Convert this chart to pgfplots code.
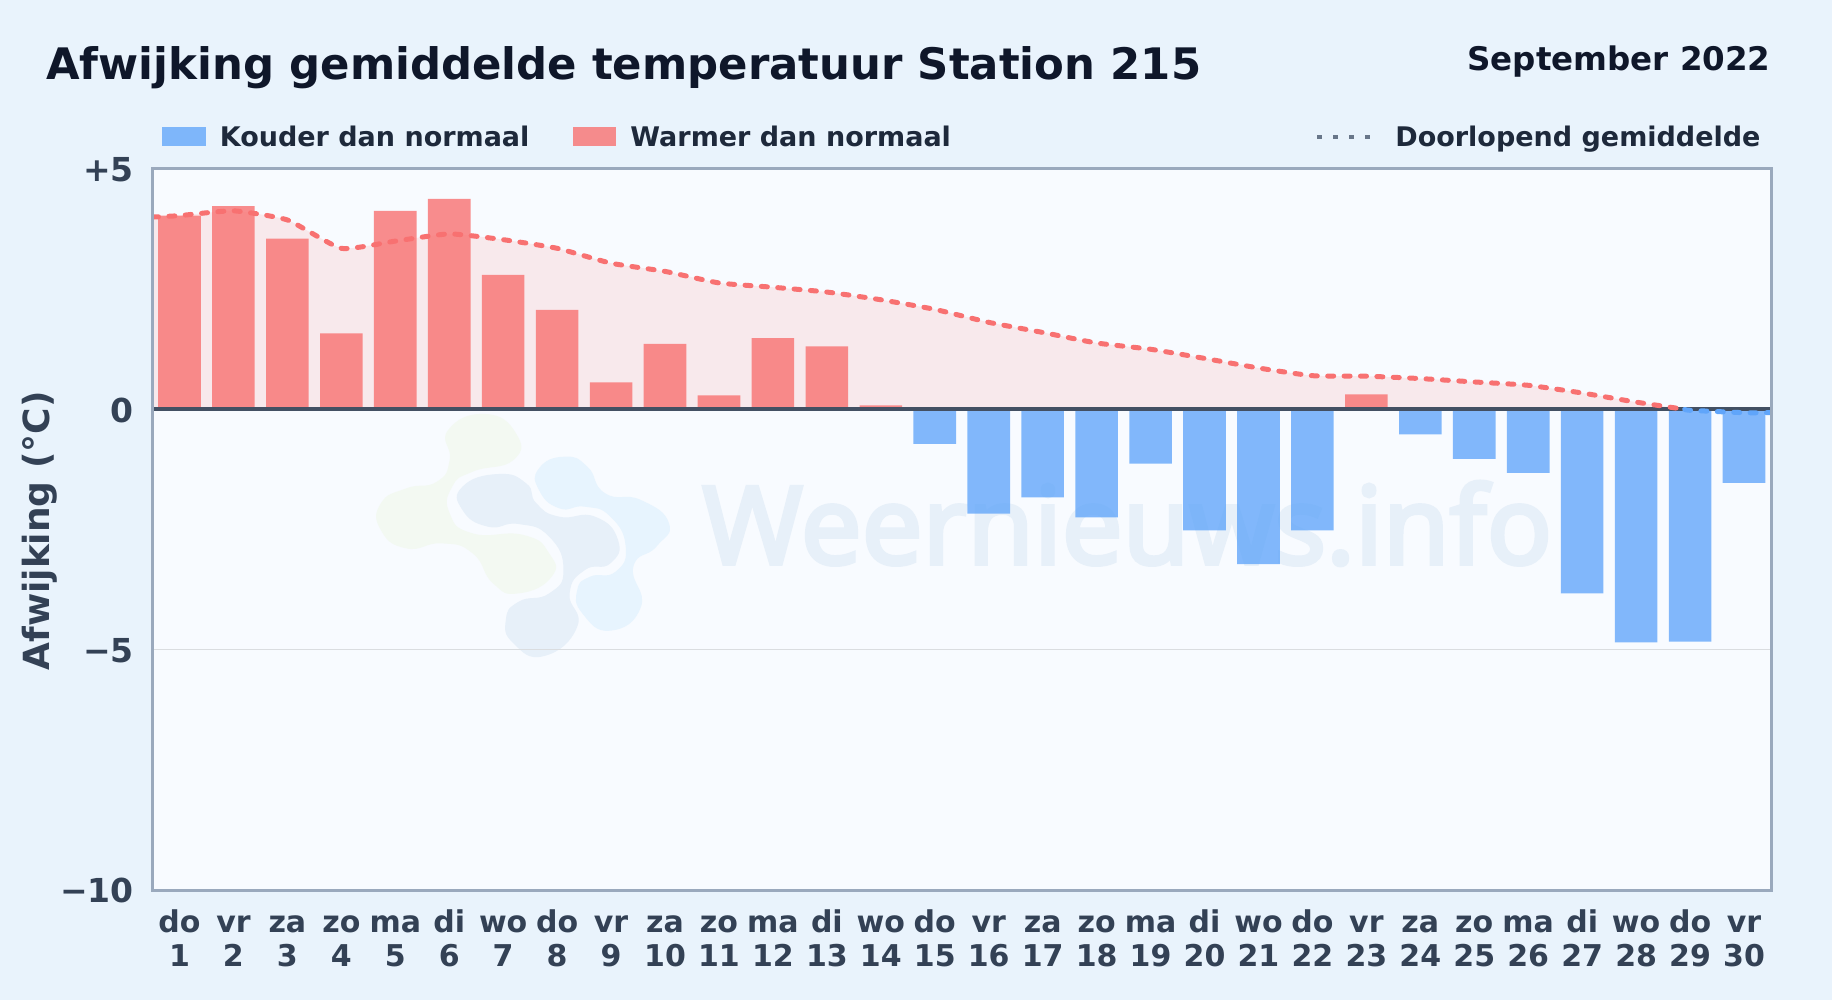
\documentclass[border=0pt]{standalone}
\usepackage{fontspec}
\setmainfont{DejaVu Sans}
\newfontfamily\wmfont[FakeBold=3.5]{Noto Sans}
\usepackage{pgfplots}
\usepackage{pgfplotstable}
\pgfplotsset{compat=1.18}

\definecolor{pagebg}{HTML}{E9F3FC}
\definecolor{plotbg}{HTML}{F8FBFF}
\definecolor{framecol}{HTML}{9AA9BD}
\definecolor{warm}{HTML}{F87171}
\definecolor{cold}{HTML}{60A5FA}
\definecolor{zeroline}{HTML}{334155}
\definecolor{titlecol}{HTML}{0F172A}
\definecolor{legendcol}{HTML}{1E293B}
\definecolor{wmgreen}{HTML}{F3F9F2}
\definecolor{wmgrey}{HTML}{E7F0F9}
\definecolor{wmblue}{HTML}{E7F4FE}

\newcommand{\dl}[2]{\strut #1\\\strut #2}

\pgfplotstableread{
day val
1 4.03
2 4.23
3 3.55
4 1.58
5 4.13
6 4.38
7 2.80
8 2.07
9 0.56
10 1.36
11 0.29
12 1.48
13 1.31
14 0.08
23 0.31
}\warmdays

\pgfplotstableread{
day val
15 -0.72
16 -2.17
17 -1.83
18 -2.25
19 -1.13
20 -2.52
21 -3.22
22 -2.52
24 -0.52
25 -1.03
26 -1.32
27 -3.83
28 -4.85
29 -4.83
30 -1.53
}\colddays

\pgfplotstableread{
day val
0.5 4.00
1 4.03
2 4.13
3 3.94
4 3.35
5 3.50
6 3.65
7 3.53
8 3.35
9 3.04
10 2.87
11 2.63
12 2.54
13 2.44
14 2.28
15 2.08
16 1.81
17 1.60
18 1.38
19 1.25
20 1.06
21 0.86
22 0.70
23 0.69
24 0.64
25 0.57
26 0.50
27 0.34
28 0.15
28.9 0.00
}\meanpos

\pgfplotstableread{
day val
28.9 0.00
29 -0.02
30 -0.07
30.5 -0.07
}\meanneg

\begin{document}
\begin{tikzpicture}
\useasboundingbox (0,0) rectangle (916pt,-500pt);
\fill[pagebg] (0,0) rectangle (916pt,-500pt);
\fill[plotbg] (76.25pt,-84.5pt) rectangle (885.5pt,-445pt);

% watermark, coordinates as read from the zoomed crop
\begin{scope}[shift={(170pt,-190pt)},x=0.2551pt,y=-0.1667pt]
\fill[wmgreen] plot[smooth cycle,tension=0.9] coordinates {(285,102)(345,160)(340,240)(260,275)(220,320)(215,400)(260,460)(360,465)(410,520)(415,590)(350,640)(300,610)(260,520)(200,490)(130,505)(80,450)(80,370)(130,325)(190,305)(215,240)(212,150)};
\fill[wmgrey] plot[smooth cycle,tension=0.9] coordinates {(310,282)(365,310)(385,370)(430,410)(500,410)(545,480)(530,550)(480,570)(450,640)(465,740)(400,828)(340,790)(325,720)(350,665)(410,640)(438,570)(410,470)(350,432)(290,440)(240,390)(240,320)};
\fill[wmblue] plot[smooth cycle,tension=0.9] coordinates {(440,230)(485,260)(520,340)(590,360)(645,430)(620,500)(575,560)(590,680)(530,752)(475,700)(465,630)(490,590)(540,575)(560,500)(530,410)(480,380)(430,385)(390,330)(390,265)};
\end{scope}
\node[anchor=base west,inner sep=0pt,text=wmgrey,font=\wmfont\fontsize{54}{54}\selectfont] at (351pt,-282pt) {Weernieuws.info};

\begin{axis}[
    at={(76.25pt,-445pt)}, anchor=south west,
    scale only axis, width=809.25pt, height=360.5pt,
    xmin=0.5, xmax=30.5, ymin=-10, ymax=5,
    axis line style={draw=none},
    xtick={1,...,30},
    xticklabels={{\dl{do}{1}},{\dl{vr}{2}},{\dl{za}{3}},{\dl{zo}{4}},{\dl{ma}{5}},{\dl{di}{6}},{\dl{wo}{7}},{\dl{do}{8}},{\dl{vr}{9}},{\dl{za}{10}},{\dl{zo}{11}},{\dl{ma}{12}},{\dl{di}{13}},{\dl{wo}{14}},{\dl{do}{15}},{\dl{vr}{16}},{\dl{za}{17}},{\dl{zo}{18}},{\dl{ma}{19}},{\dl{di}{20}},{\dl{wo}{21}},{\dl{do}{22}},{\dl{vr}{23}},{\dl{za}{24}},{\dl{zo}{25}},{\dl{ma}{26}},{\dl{di}{27}},{\dl{wo}{28}},{\dl{do}{29}},{\dl{vr}{30}}},
    xticklabel style={align=center,text=zeroline,yshift=-6pt,font=\bfseries\fontsize{15}{17}\selectfont},
    ytick={-10,-5,0,5},
    yticklabels={−10,−5,0,+5},
    yticklabel style={text=zeroline,xshift=-5.8pt,yshift=-0.4pt,font=\bfseries\fontsize{16.5}{16.5}\selectfont},
    tick style={draw=none},
    ymajorgrids, grid style={draw=black!12!plotbg,line width=0.8pt},
    ylabel={Afwijking (°C)},
    ylabel style={at={(axis description cs:-0.0695,0.498)},anchor=center,text=zeroline,font=\bfseries\fontsize{18}{18}\selectfont},
]
\addplot[draw=none,fill=warm,fill opacity=0.13,smooth,tension=0.3] table[x=day,y=val] {\meanpos} \closedcycle;
\addplot[ybar,bar width=0.79,bar shift=0pt,draw=none,fill=cold,fill opacity=0.78] table[x=day,y=val] {\colddays};
\addplot[ybar,bar width=0.79,bar shift=0pt,draw=none,fill=warm,fill opacity=0.8] table[x=day,y=val] {\warmdays};
\addplot[zeroline!92!white,line width=2pt] coordinates {(0.5,0) (30.5,0)};
\addplot[warm,line width=2.5pt,line cap=round,dash pattern=on 3pt off 5.2pt,smooth,tension=0.3] table[x=day,y=val] {\meanpos};
\addplot[cold,line width=2.5pt,line cap=round,dash pattern=on 3pt off 5.2pt,smooth,tension=0.3] table[x=day,y=val] {\meanneg};
\end{axis}

% plot frame
\draw[framecol,line width=1.5pt] (76.25pt,-84.5pt) rectangle (885.5pt,-445pt);

% title and legend
\node[anchor=base west,inner sep=0pt,text=titlecol,font=\bfseries\fontsize{21.7}{21.7}\selectfont] at (23pt,-40pt) {Afwijking gemiddelde temperatuur Station 215};
\node[anchor=base east,inner sep=0pt,text=titlecol,font=\bfseries\fontsize{16.25}{16.25}\selectfont] at (885.5pt,-35.5pt) {September 2022};
\fill[cold,opacity=0.78] (81pt,-63.5pt) rectangle (103pt,-73pt);
\node[anchor=base west,inner sep=0pt,text=legendcol,font=\bfseries\fontsize{13.5}{13.5}\selectfont] at (109.7pt,-73.2pt) {Kouder dan normaal};
\fill[warm,opacity=0.8] (286.5pt,-63.5pt) rectangle (308pt,-73pt);
\node[anchor=base west,inner sep=0pt,text=legendcol,font=\bfseries\fontsize{13.5}{13.5}\selectfont] at (315pt,-73.2pt) {Warmer dan normaal};
\draw[framecol!60!legendcol,line width=2pt,dash pattern=on 2.5pt off 5.5pt] (658.5pt,-68.5pt) -- (687pt,-68.5pt);
\node[anchor=base west,inner sep=0pt,text=legendcol,font=\bfseries\fontsize{13.5}{13.5}\selectfont] at (697.5pt,-73.2pt) {Doorlopend gemiddelde};
\end{tikzpicture}
\end{document}
